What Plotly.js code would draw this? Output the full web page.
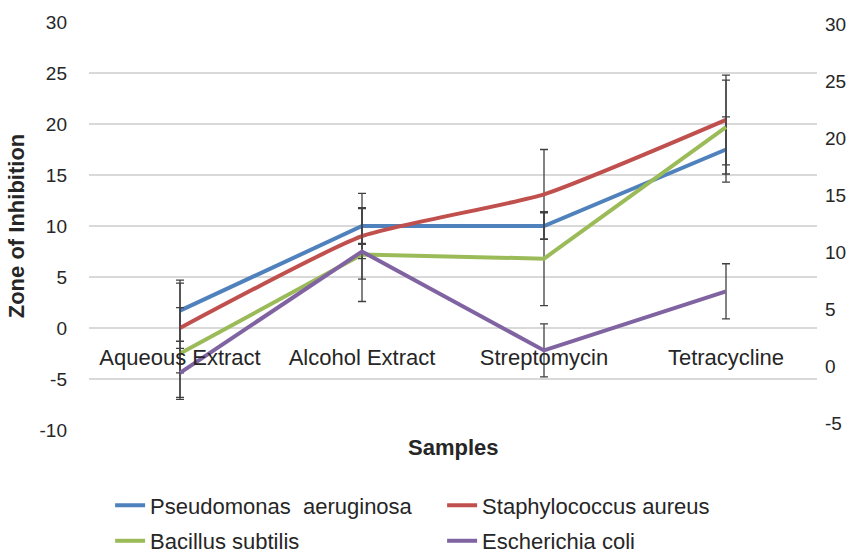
<!DOCTYPE html>
<html>
<head>
<meta charset="utf-8">
<script src="https://cdn.plot.ly/plotly-3.0.1.min.js"></script>
<style>html,body{margin:0;padding:0;background:#fff;}#chart{width:859px;height:555px;}</style>
</head>
<body>
<div id="chart"></div>
<script>
const categories = ["Aqueous Extract", "Alcohol Extract", "Streptomycin", "Tetracycline"];
const seriesNames = ["Pseudomonas  aeruginosa", "Staphylococcus aureus", "Bacillus subtilis", "Escherichia coli"];
const pseudomonas = [1.7, 10.0, 10.0, 17.5];
const staphylococcus = [0.0, 9.0, 13.1, 20.4];
const bacillus = [-2.5, 7.2, 6.8, 19.7];
const ecoli = [-4.4, 7.5, -2.2, 3.6];
const pseudomonasErr = [3.0, 1.7, 1.3, 3.2];
const staphylococcusErr = [4.4, 4.2, 4.4, 4.4];
const bacillusErr = [4.5, 4.6, 4.6, 4.6];
const ecoliErr = [2.4, 0.7, 2.6, 2.7];
const leftTicks = [-10, -5, 0, 5, 10, 15, 20, 25, 30];
const rightTicks = [-5, 0, 5, 10, 15, 20, 25, 30];

const colors = ["#4F81BD", "#C0504D", "#9BBB59", "#8064A2"];
const values = [pseudomonas, staphylococcus, bacillus, ecoli];
const errs = [pseudomonasErr, staphylococcusErr, bacillusErr, ecoliErr];
const legendIds = ["legend", "legend", "legend2", "legend2"];

const font = "Liberation Sans, Arial, sans-serif";
const traces = values.map((v, i) => ({
  type: "scatter",
  mode: "lines",
  x: categories,
  y: v,
  name: seriesNames[i],
  legend: legendIds[i],
  line: {color: colors[i], width: 4, shape: i === 1 ? "spline" : "linear", smoothing: 0.5},
  error_y: {type: "data", array: errs[i], visible: true, color: "#404040", thickness: 1.3, width: 4}
}));
// helper trace so the secondary (right) axis is drawn
traces.push({
  type: "scatter", mode: "lines", x: [categories[0]], y: [null], yaxis: "y2",
  showlegend: false, hoverinfo: "skip"
});

const legendCommon = {
  orientation: "h", x: 0.029, xanchor: "left", yanchor: "middle",
  entrywidth: 287, entrywidthmode: "pixels",
  font: {family: font, size: 22, color: "#262626"},
  itemwidth: 30, bgcolor: "rgba(0,0,0,0)"
};

const layout = {
  width: 859, height: 555,
  margin: {l: 89, r: 42, t: 22, b: 125, autoexpand: false},
  paper_bgcolor: "#fff", plot_bgcolor: "#fff",
  font: {family: font, size: 18, color: "#262626"},
  showlegend: true,
  legend: Object.assign({}, legendCommon, {y: -0.185}),
  legend2: Object.assign({}, legendCommon, {y: -0.272}),
  xaxis: {
    type: "category", range: [-0.5, 3.5],
    anchor: "free", position: 0.25,
    showgrid: false, zeroline: false, showline: false, ticks: "",
    ticklabelstandoff: 14,
    tickfont: {family: font, size: 22, color: "#262626"}
  },
  yaxis: {
    range: [-10, 30], tickvals: leftTicks, ticktext: leftTicks.map(String),
    showgrid: true, gridcolor: "#d9d9d9", gridwidth: 1.3, zeroline: false, showline: false,
    ticks: "", ticklabelstandoff: 21,
    tickfont: {family: font, size: 19, color: "#262626"},
    title: {text: "<b>Zone of Inhibition</b>", font: {family: font, size: 22, color: "#262626"}, standoff: 8}
  },
  yaxis2: {
    overlaying: "y", side: "right", range: [-5.6, 30.2],
    tickvals: rightTicks, ticktext: rightTicks.map(String),
    showgrid: false, zeroline: false, showline: false, ticks: "",
    ticklabelstandoff: 7,
    tickfont: {family: font, size: 19, color: "#262626"}
  },
  annotations: [{
    text: "<b>Samples</b>", xref: "paper", yref: "paper", x: 0.5, y: -0.042, xanchor: "center", yanchor: "middle",
    showarrow: false, font: {family: font, size: 22, color: "#262626"}
  }]
};

Plotly.newPlot("chart", traces, layout, {displayModeBar: false, staticPlot: true});
</script>
</body>
</html>
